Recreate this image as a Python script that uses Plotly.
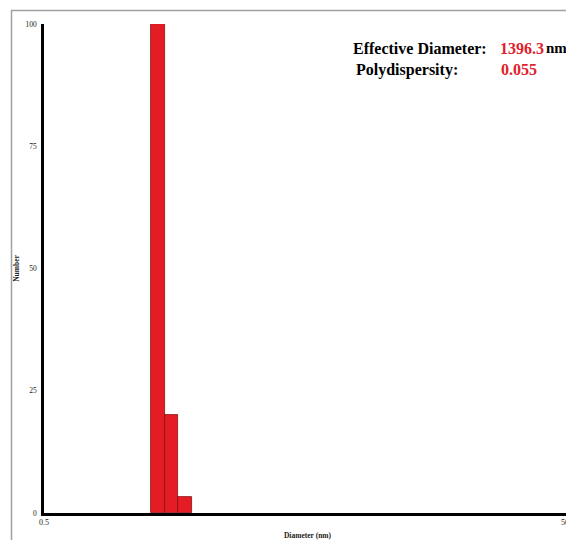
import numpy as np
import plotly.graph_objects as go

# Data
bin_centers_nm = [6.04, 8.1, 10.9]      # diameter bin centres (nm, log axis)
bin_width_decades = [0.13, 0.13, 0.13]   # bin widths in log10 units
counts = [100, 20, 3.3]
y_ticks = [0, 25, 50, 75, 100]
x_tick_vals = [0.5, 50000]
x_tick_text = ["0.5", "50000"]
eff_diam = "1396.3"
polydisp = "0.055"

OFF = 8  # default page body margin
W, H = 574 - OFF, 548 - 2 * OFF
L, R, T, B = 44 - OFF, 3, 24 - OFF, 35 - OFF
pw, ph = W - L - R, H - T - B

def px(xp):  # page pixel x -> paper
    return (xp - OFF - L) / pw

def py(yp):  # page pixel y -> paper
    return (H - B - (yp - OFF)) / ph

fig = go.Figure()
fig.add_trace(go.Bar(
    x=np.log10(bin_centers_nm), y=counts, width=bin_width_decades,
    marker=dict(color="#e41d25", line=dict(color="#8a0e12", width=0.8)),
    showlegend=False,
))

serif = "Liberation Serif"
fig.update_layout(
    width=W, height=H,
    margin=dict(l=L, r=R, t=T, b=B, autoexpand=False),
    paper_bgcolor="white", plot_bgcolor="white",
    bargap=0,
    font=dict(family=serif, color="black"),
    xaxis=dict(
        range=[np.log10(0.5), np.log10(50000)],
        tickvals=np.log10(x_tick_vals), ticktext=x_tick_text,
        showgrid=False, zeroline=False, automargin=False,
        showline=True, linecolor="black", linewidth=2.5,
        ticks="", tickfont=dict(size=8, family=serif, color="#222"),
        ticklabeloverflow="allow",
        title=dict(text="<b>Diameter (nm)</b>", font=dict(size=7.5, family=serif, color="#222"), standoff=8),
    ),
    yaxis=dict(
        range=[0, 100], tickvals=y_ticks,
        showgrid=False, zeroline=False, automargin=False,
        showline=True, linecolor="black", linewidth=2.5,
        ticks="", tickfont=dict(size=7.5, family=serif, color="#222"),
        ticklabelstandoff=3,
        title=dict(text="<b>Number</b>", font=dict(size=7.5, family=serif, color="#222"), standoff=5),
    ),
)

ann_font = dict(family=serif, size=16, color="black")
red_font = dict(family=serif, size=16, color="#e0202a")
fig.add_annotation(xref="paper", yref="paper", x=px(351), y=py(48), xanchor="left", yanchor="middle",
                   text="<b>Effective Diameter:</b>", showarrow=False, font=ann_font)
fig.add_annotation(xref="paper", yref="paper", x=px(498), y=py(48), xanchor="left", yanchor="middle",
                   text="<b>" + eff_diam + "</b>", showarrow=False, font=red_font)
fig.add_annotation(xref="paper", yref="paper", x=px(544), y=py(48), xanchor="left", yanchor="middle",
                   text="<b>nm</b>", showarrow=False, font=dict(family=serif, size=15, color="black"))
fig.add_annotation(xref="paper", yref="paper", x=px(354), y=py(70), xanchor="left", yanchor="middle",
                   text="<b>Polydispersity:</b>", showarrow=False, font=ann_font)
fig.add_annotation(xref="paper", yref="paper", x=px(499), y=py(70), xanchor="left", yanchor="middle",
                   text="<b>" + polydisp + "</b>", showarrow=False, font=red_font)
fig.add_annotation(xref="paper", yref="paper", x=px(300), y=py(-4), xanchor="center", yanchor="middle",
                   text="(a)", showarrow=False, font=dict(family=serif, size=12, color="#2aa0e0"))

# panel frame of the screenshot (open to the right and bottom)
fig.add_shape(type="rect", xref="paper", yref="paper",
              x0=px(11.5), x1=px(600), y0=py(10.5), y1=py(600),
              line=dict(color="#a0a0a0", width=1.5), fillcolor="rgba(0,0,0,0)", layer="below")

fig.write_html("out.html")
